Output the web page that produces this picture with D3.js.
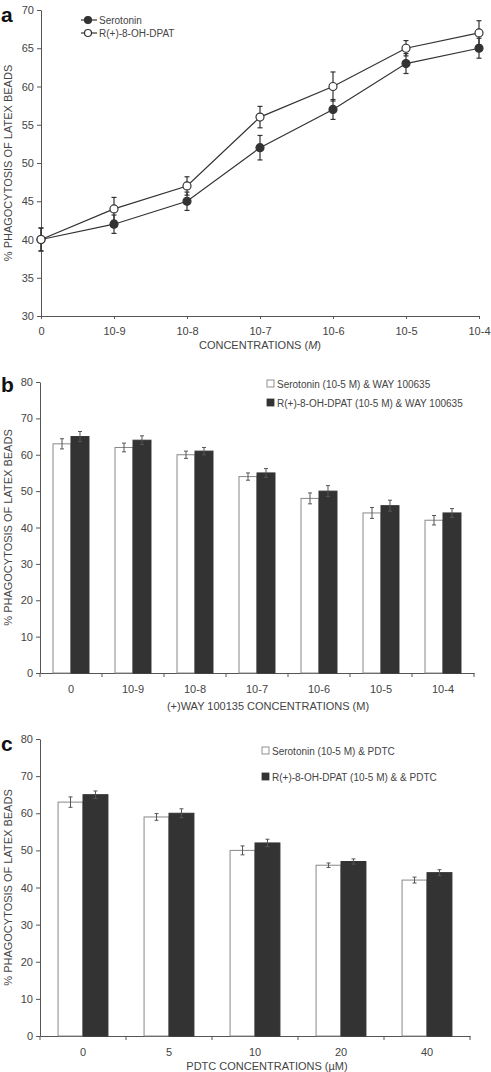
<!DOCTYPE html>
<html><head><meta charset="utf-8">
<script src="https://cdn.jsdelivr.net/npm/d3@7"></script>
<style>body{margin:0;background:#fff}svg{display:block;font-family:"Liberation Sans",Arial,sans-serif}</style>
</head><body><svg id="c" width="491" height="1072"></svg>
<script>
// Panel a
const catsA = ["0","10-9","10-8","10-7","10-6","10-5","10-4"];
const serA = [40,42,45,52,57,63,65];
const serAErr = [1.5,1.2,1.2,1.6,1.3,1.3,1.3];
const dpatA = [40,44,47,56,60,65,67];
const dpatAErr = [1.5,1.5,1.2,1.4,1.9,1.0,1.6];
const yTicksA = [30,35,40,45,50,55,60,65,70];
// Panel b
const catsB = ["0","10-9","10-8","10-7","10-6","10-5","10-4"];
const serB = [63,62,60,54,48,44,42];
const serBErr = [1.4,1.2,1.0,1.0,1.5,1.5,1.3];
const dpatB = [65,64,61,55,50,46,44];
const dpatBErr = [1.4,1.2,1.0,1.2,1.5,1.5,1.2];
// Panel c
const catsC = ["0","5","10","20","40"];
const serC = [63,59,50,46,42];
const serCErr = [1.4,0.9,1.2,0.6,0.8];
const dpatC = [65,60,52,47,44];
const dpatCErr = [1.0,1.2,1.0,0.7,0.8];
const yTicksBar = [0,10,20,30,40,50,60,70,80];

const svg = d3.select("#c");
const AX = "#555", DARK = "#333", TXT = "#444";
const fs = 11;

function yAxis(g, y, ticks, x0){
  const ax = d3.axisLeft(y).tickValues(ticks).tickSize(4).tickSizeOuter(0);
  const gg = g.append("g").attr("transform",`translate(${x0},0)`).call(ax);
  gg.selectAll("path,line").attr("stroke",AX);
  gg.selectAll("text").attr("fill",TXT).style("font-size",fs+"px").style("font-family","Liberation Sans, Arial");
}
function yLabel(g, cy){
  g.append("text").attr("transform",`translate(12,${cy}) rotate(-90)`).attr("text-anchor","middle")
   .attr("fill",TXT).style("font-size","11px").text("% PHAGOCYTOSIS OF LATEX BEADS");
}
function letter(g, t, y){
  g.append("text").attr("x",1).attr("y",y).style("font-size","21px").style("font-weight","bold").attr("fill","#111").text(t);
}

// ---------- Panel a ----------
{
  const g = svg.append("g");
  const y = d3.scaleLinear().domain([30,70]).range([316,10]);
  const x = d3.scalePoint().domain(catsA).range([41,479]);
  yAxis(g, y, yTicksA, 41);
  const xa = d3.axisBottom(x).tickSize(3).tickSizeOuter(0).tickPadding(8);
  const gx = g.append("g").attr("transform","translate(0,316)").call(xa);
  gx.selectAll("path,line").attr("stroke",AX);
  gx.selectAll("text").attr("fill",TXT).style("font-size",fs+"px").style("font-family","Liberation Sans, Arial");
  letter(g,"a",22);
  yLabel(g,163);
  const t = g.append("text").attr("x",260).attr("y",349).attr("text-anchor","middle").attr("fill",TXT).style("font-size","11px");
  t.append("tspan").text("CONCENTRATIONS (");
  t.append("tspan").style("font-style","italic").text("M");
  t.append("tspan").text(")");
  const series = [{v:serA,e:serAErr,fill:DARK},{v:dpatA,e:dpatAErr,fill:"#fff"}];
  const line = d3.line().x((d,i)=>x(catsA[i])).y(d=>y(d));
  series.forEach(s=>{
    g.append("path").attr("d",line(s.v)).attr("fill","none").attr("stroke",DARK).attr("stroke-width",1.2);
  });
  series.forEach(s=>{
    s.v.forEach((v,i)=>{
      const cx = x(catsA[i]);
      g.append("line").attr("x1",cx).attr("x2",cx).attr("y1",y(v-s.e[i])).attr("y2",y(v+s.e[i])).attr("stroke",DARK).attr("stroke-width",1.2);
      [v-s.e[i],v+s.e[i]].forEach(w=>g.append("line").attr("x1",cx-2.5).attr("x2",cx+2.5).attr("y1",y(w)).attr("y2",y(w)).attr("stroke",DARK).attr("stroke-width",1.2));
    });
  });
  series.forEach(s=>{
    s.v.forEach((v,i)=>{
      g.append("circle").attr("cx",x(catsA[i])).attr("cy",y(v)).attr("r",4).attr("fill",s.fill).attr("stroke",DARK).attr("stroke-width",1.2);
    });
  });
  // legend
  const legA = [{t:"Serotonin",fill:DARK},{t:"R(+)-8-OH-DPAT",fill:"#fff"}];
  legA.forEach((l,i)=>{
    const ly = 20 + i*13;
    g.append("line").attr("x1",81).attr("x2",97).attr("y1",ly).attr("y2",ly).attr("stroke",DARK).attr("stroke-width",1.2);
    g.append("circle").attr("cx",88).attr("cy",ly).attr("r",3.5).attr("fill",l.fill).attr("stroke",DARK).attr("stroke-width",1.2);
    g.append("text").attr("x",99).attr("y",ly+4).attr("fill",TXT).style("font-size","10px").text(l.t);
  });
}

function barPanel(opts){
  const g = svg.append("g");
  const y = d3.scaleLinear().domain([0,80]).range([opts.y0,opts.y1]);
  const x = d3.scaleBand().domain(opts.cats).range([40,opts.xEnd]).padding(0);
  const sub = d3.scaleBand().domain([0,1]).range([x.bandwidth()*0.21,x.bandwidth()*0.79]).padding(0);
  yAxis(g, y, yTicksBar, 40);
  const xa = d3.axisBottom(x).tickSize(4).tickSizeOuter(0).tickPadding(8);
  const gx = g.append("g").attr("transform",`translate(0,${opts.y0})`).call(xa);
  gx.selectAll(".tick line").attr("transform",`translate(${x.bandwidth()/2},0)`);
  gx.append("line").attr("x1",40).attr("x2",40).attr("y1",0).attr("y2",4).attr("stroke",AX);
  gx.selectAll("path,line").attr("stroke",AX);
  gx.selectAll("text").attr("fill",TXT).style("font-size",fs+"px").style("font-family","Liberation Sans, Arial");
  letter(g,opts.letter,opts.letterY);
  yLabel(g,(opts.y0+opts.y1)/2);
  g.append("text").attr("x",opts.titleX).attr("y",opts.titleY).attr("text-anchor","middle").attr("fill",TXT).style("font-size","11px").text(opts.title);
  const ser = [{v:opts.ser,e:opts.serErr,fill:"#fff",stroke:"#888"},{v:opts.dpat,e:opts.dpatErr,fill:DARK,stroke:DARK}];
  ser.forEach((s,k)=>{
    s.v.forEach((v,i)=>{
      const bx = x(opts.cats[i])+sub(k);
      g.append("rect").attr("x",bx).attr("y",y(v)).attr("width",sub.bandwidth()).attr("height",y(0)-y(v))
        .attr("fill",s.fill).attr("stroke",s.stroke).attr("stroke-width",1);
    });
  });
  ser.forEach((s,k)=>{
    s.v.forEach((v,i)=>{
      const cx = x(opts.cats[i])+sub(k)+sub.bandwidth()/2;
      const col = "#555";
      g.append("line").attr("x1",cx).attr("x2",cx).attr("y1",y(v-s.e[i])).attr("y2",y(v+s.e[i])).attr("stroke",col).attr("stroke-width",1);
      [v-s.e[i],v+s.e[i]].forEach(w=>g.append("line").attr("x1",cx-2).attr("x2",cx+2).attr("y1",y(w)).attr("y2",y(w)).attr("stroke",col).attr("stroke-width",1));
    });
  });
  opts.legend.forEach((t,i)=>{
    const ly = opts.legY + i*opts.legGap;
    g.append("rect").attr("x",opts.legX).attr("y",ly-4).attr("width",7).attr("height",7)
      .attr("fill",i===0?"#fff":DARK).attr("stroke",i===0?"#777":DARK).attr("stroke-width",0.8);
    g.append("text").attr("x",opts.legX+10).attr("y",ly+4).attr("fill",TXT).style("font-size","10px").text(t);
  });
}

barPanel({cats:catsB,ser:serB,serErr:serBErr,dpat:dpatB,dpatErr:dpatBErr,y0:673,y1:382,xEnd:474,
  letter:"b",letterY:392,title:"(+)WAY 100135 CONCENTRATIONS (M)",titleX:268,titleY:710,
  legend:["Serotonin (10-5 M) & WAY 100635","R(+)-8-OH-DPAT (10-5 M) & WAY 100635"],legX:267,legY:384,legGap:19});
barPanel({cats:catsC,ser:serC,serErr:serCErr,dpat:dpatC,dpatErr:dpatCErr,y0:1036,y1:739,xEnd:470,
  letter:"c",letterY:751,title:"PDTC CONCENTRATIONS (\u00b5M)",titleX:267,titleY:1070,
  legend:["Serotonin (10-5 M) & PDTC","R(+)-8-OH-DPAT (10-5 M) &  & PDTC"],legX:262,legY:751,legGap:26});
</script></body></html>
